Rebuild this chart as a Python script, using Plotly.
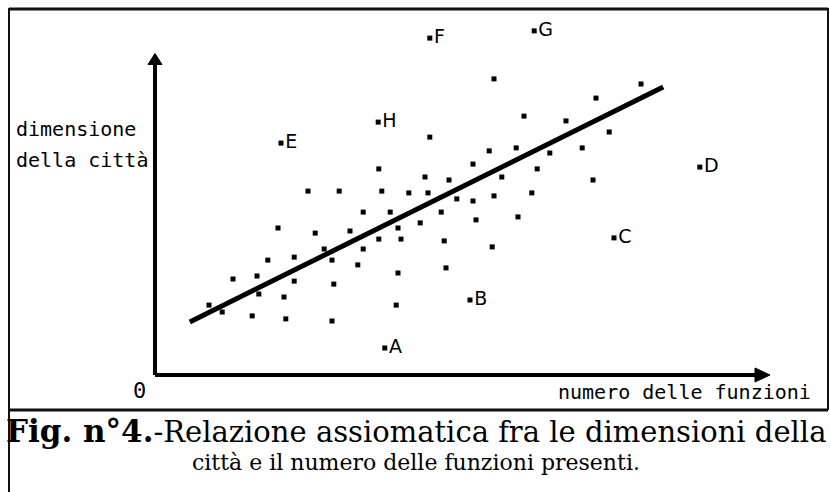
import plotly.graph_objects as go

# Sample of cities: number of functions present (x) vs. city size (y)
fn_count = [56.5, 81.0, 73.5, 61.5, 68.5, 45.8, 75.7, 55.7, 60.2, 65.8,
            71.2, 53.0, 45.0, 49.0, 57.8, 63.7, 73.0, 45.5, 50.3, 53.0,
            56.5, 62.8, 47.7, 53.5, 60.5, 44.2, 48.2, 56.2, 48.5, 37.3,
            25.5, 30.7, 37.8, 42.3, 34.7, 39.2, 20.5, 26.7, 32.5, 40.5,
            37.3, 41.0, 28.2, 34.7, 18.8, 23.2, 29.5, 33.8, 40.5, 13.0,
            17.0, 23.2, 29.8, 21.5, 40.2, 9.0, 11.2, 17.3, 16.2, 21.8,
            29.5]
city_size = [98.7, 97.0, 92.3, 86.3, 84.7, 79.3, 81.0, 74.7, 75.7, 74.0,
             75.7, 70.3, 66.0, 65.0, 66.0, 68.7, 65.0, 60.7, 58.7, 58.0,
             59.7, 60.7, 54.3, 51.7, 52.7, 50.7, 44.7, 42.7, 35.7, 68.7,
             61.3, 61.3, 61.3, 60.7, 54.3, 54.3, 49.0, 47.3, 48.0, 49.0,
             45.3, 45.3, 42.0, 42.0, 38.3, 39.3, 38.3, 36.7, 34.0, 32.0,
             33.0, 31.3, 30.3, 26.0, 23.3, 23.3, 21.0, 27.0, 19.7, 18.7,
             18.0]

# Cities far from the general relation
outlier_names = ["A", "B", "C", "D", "E", "F", "G", "H"]
outlier_fn = [38.3, 52.5, 76.5, 90.8, 21.0, 45.8, 63.2, 37.2]
outlier_size = [9.0, 25.0, 45.7, 69.3, 77.3, 112.3, 114.7, 84.3]

# Trend line end points
trend_fn = [5.8, 84.7]
trend_size = [17.7, 96.0]

# Axis lengths (data units)
X_AXIS_END = 101.0
Y_AXIS_END = 104.5

W, H = 830, 492
X0_PX, Y0_PX = 155, 375      # pixel position of the origin
SX, SY = 6.0, 3.0            # pixels per data unit

x_range = [(0 - X0_PX) / SX, (W - X0_PX) / SX]
y_range = [(Y0_PX - H) / SY, Y0_PX / SY]

MONO = "DejaVu Sans Mono"
SANS = "DejaVu Sans"
SERIF = "DejaVu Serif"

fig = go.Figure()

# Scatter of ordinary cities
fig.add_trace(go.Scatter(
    x=fn_count, y=city_size, mode="markers",
    marker=dict(symbol="square", size=5, color="black", line=dict(width=0)),
    hoverinfo="skip", showlegend=False))

# Trend line
fig.add_trace(go.Scatter(
    x=trend_fn, y=trend_size, mode="lines",
    line=dict(color="black", width=5),
    hoverinfo="skip", showlegend=False))

# Labelled outliers
fig.add_trace(go.Scatter(
    x=outlier_fn, y=outlier_size, mode="markers+text",
    text=outlier_names, textposition="middle right",
    textfont=dict(family=SANS, size=19, color="black"),
    marker=dict(symbol="square", size=5, color="black", line=dict(width=0)),
    hoverinfo="skip", showlegend=False))

shapes = []
# Axes
shapes.append(dict(type="line", xref="x", yref="y", x0=0, y0=0, x1=0, y1=Y_AXIS_END,
                   line=dict(color="black", width=4)))
shapes.append(dict(type="line", xref="x", yref="y", x0=0, y0=0, x1=X_AXIS_END, y1=0,
                   line=dict(color="black", width=4)))
# Arrow heads
hx = 7 / SX
hy = 7 / SY
shapes.append(dict(type="path", xref="x", yref="y",
                   path=f"M {-hx},{Y_AXIS_END - 1} L {hx},{Y_AXIS_END - 1} L 0,{Y_AXIS_END + 8 / SY} Z",
                   fillcolor="black", line=dict(color="black", width=1)))
shapes.append(dict(type="path", xref="x", yref="y",
                   path=f"M {X_AXIS_END - 1},{-hy} L {X_AXIS_END - 1},{hy} L {X_AXIS_END + 9 / SX},0 Z",
                   fillcolor="black", line=dict(color="black", width=1)))


def px(x):
    return x / W


def py(y):
    return 1 - y / H


# Frame and caption separator
frame = dict(color="#111", width=2)
shapes.append(dict(type="line", xref="paper", yref="paper", x0=px(9), y0=py(9), x1=px(828), y1=py(9), line=dict(color="#111", width=3)))
shapes.append(dict(type="line", xref="paper", yref="paper", x0=px(9), y0=py(8), x1=px(9), y1=py(492), line=frame))
shapes.append(dict(type="line", xref="paper", yref="paper", x0=px(828), y0=py(8), x1=px(828), y1=py(410), line=frame))
shapes.append(dict(type="line", xref="paper", yref="paper", x0=px(9), y0=py(410), x1=px(828), y1=py(410), line=dict(color="#111", width=3)))

annotations = [
    dict(text="dimensione", x=px(14), y=py(129), xref="paper", yref="paper",
         xanchor="left", yanchor="middle", showarrow=False,
         font=dict(family=MONO, size=20, color="black")),
    dict(text="della città", x=px(14), y=py(160), xref="paper", yref="paper",
         xanchor="left", yanchor="middle", showarrow=False,
         font=dict(family=MONO, size=20, color="black")),
    dict(text="numero delle funzioni", x=px(813), y=py(392), xref="paper", yref="paper",
         xanchor="right", yanchor="middle", showarrow=False,
         font=dict(family=MONO, size=20, color="black")),
    dict(text="0", x=px(139), y=py(390), xref="paper", yref="paper",
         xanchor="center", yanchor="middle", showarrow=False,
         font=dict(family=MONO, size=22, color="black")),
    dict(text="<b><span style='font-size:31px'>Fig. n°4.</span></b>-Relazione assiomatica fra le dimensioni della",
         x=px(4), y=py(431), xref="paper", yref="paper",
         xanchor="left", yanchor="middle", showarrow=False,
         font=dict(family=SERIF, size=29, color="black")),
    dict(text="città e il numero delle funzioni presenti.",
         x=px(190), y=py(462), xref="paper", yref="paper",
         xanchor="left", yanchor="middle", showarrow=False,
         font=dict(family=SERIF, size=22, color="black")),
]

fig.update_layout(
    width=W, height=H,
    margin=dict(l=0, r=0, t=0, b=0),
    paper_bgcolor="white", plot_bgcolor="white",
    xaxis=dict(range=x_range, visible=False, fixedrange=True),
    yaxis=dict(range=y_range, visible=False, fixedrange=True),
    shapes=shapes, annotations=annotations,
    showlegend=False,
)

fig.write_html("out.html")
